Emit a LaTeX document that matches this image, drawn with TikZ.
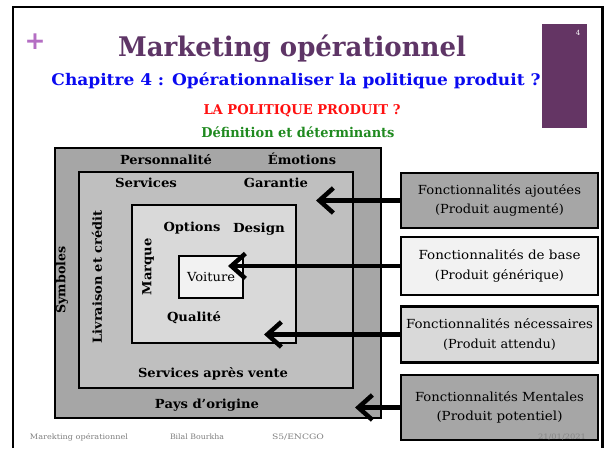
\documentclass[tikz,border=0pt]{standalone}
\usepackage{fontspec}
\setmainfont{DejaVu Serif}
\newfontfamily\plusfont{DejaVu Sans}
\usetikzlibrary{arrows.meta}
\newcommand\fitw[2]{\resizebox{#1}{\height}{#2}}
\definecolor{titlepurple}{HTML}{5E3566}
\definecolor{rectpurple}{HTML}{643564}
\definecolor{plusorchid}{HTML}{B46EC3}
\definecolor{chapblue}{HTML}{0A0AF0}
\definecolor{polred}{HTML}{FF1010}
\definecolor{defgreen}{HTML}{1F8A1F}
\definecolor{grayA}{HTML}{A6A6A6}
\definecolor{grayB}{HTML}{BFBFBF}
\definecolor{grayC}{HTML}{D9D9D9}
\definecolor{grayD}{HTML}{F2F2F2}
\definecolor{footgray}{HTML}{7F7F7F}
\begin{document}
\begin{tikzpicture}[x=1pt,y=-1pt,
  layerbox/.style={draw=black, line width=2.6pt, inner sep=0pt, outer sep=0pt},
  sidebox/.style={draw=black, line width=2.6pt, inner sep=0pt, outer sep=0pt,
    minimum width=197pt, align=center, font=\fontsize{12.5}{19.5}\selectfont},
  lbl/.style={font=\bfseries\fontsize{12.5}{14}\selectfont, inner sep=0pt},
  foot/.style={font=\fontsize{7.4}{8}\selectfont, text=footgray, inner sep=0pt},
  arr/.style={line width=4.5pt, -{Straight Barb[length=14pt,width=25pt]}}]
\useasboundingbox (0,0) rectangle (605,448);
\fill[white] (0,0) rectangle (605,448);
% slide frame
\coordinate (fbl) at (13,448);
\coordinate (ftl) at (13,7);
\coordinate (ftr) at (602.5,7);
\coordinate (fbr) at (602.5,448);
\draw[line width=2.4pt] (fbl) -- (ftl) -- (ftr) -- (fbr);
% purple tab
\node[fill=rectpurple, minimum width=45pt, minimum height=104pt, inner sep=0pt] (tab) at (564.5,76) {};
\node[text=white, font=\fontsize{7}{8}\selectfont, inner sep=0pt] (pnum) at (578,33) {4};
\node[text=plusorchid, font=\plusfont\bfseries\fontsize{25}{25}\selectfont, inner sep=0pt] (plus) at (35,42) {+};
% headings
\node[text=titlepurple, font=\bfseries\fontsize{27}{30}\selectfont, inner sep=0pt] (title) at (292,49) {\fitw{348pt}{Marketing opérationnel}};
\node[text=chapblue, font=\bfseries\fontsize{16}{18}\selectfont, inner sep=0pt] (chap) at (296,81) {\fitw{489pt}{Chapitre 4 : Opérationnaliser la politique produit ?}};
\node[text=polred, font=\bfseries\fontsize{13.5}{15}\selectfont, inner sep=0pt] (pol) at (302,111) {\fitw{197pt}{LA POLITIQUE PRODUIT ?}};
\node[text=defgreen, font=\bfseries\fontsize{13.5}{15}\selectfont, inner sep=0pt] (def) at (298,132) {\fitw{193pt}{Définition et déterminants}};
% nested boxes
\node[layerbox, fill=grayA, minimum width=326pt, minimum height=270pt] (outer) at (218,283) {};
\node[layerbox, fill=grayB, minimum width=274pt, minimum height=216pt] (middle) at (216,280) {};
\node[layerbox, fill=grayC, minimum width=164pt, minimum height=138pt] (inner) at (214,274) {};
\node[layerbox, fill=grayD, minimum width=64pt, minimum height=42pt, font=\fontsize{12.5}{13}\selectfont] (voiture) at (211,277) {\fitw{48pt}{Voiture}};
% labels
\node[lbl] (perso) at (166,160) {\fitw{92pt}{Personnalité}};
\node[lbl] (emo) at (302,159) {\fitw{68pt}{Émotions}};
\node[lbl] (serv) at (146,183) {\fitw{62pt}{Services}};
\node[lbl] (gar) at (276,183) {\fitw{64pt}{Garantie}};
\node[lbl] (opt) at (192,228) {\fitw{57pt}{Options}};
\node[lbl] (des) at (259,229) {\fitw{52pt}{Design}};
\node[lbl, rotate=90] (marq) at (148,267) {\fitw{57pt}{Marque}};
\node[lbl] (qual) at (194,318) {\fitw{54pt}{Qualité}};
\node[lbl, rotate=90] (livr) at (97,277) {\fitw{133pt}{Livraison et crédit}};
\node[lbl, rotate=90] (symb) at (62,280) {\fitw{67pt}{Symboles}};
\node[lbl] (sav) at (213,374) {\fitw{150pt}{Services après vente}};
\node[lbl] (pays) at (207,405) {\fitw{104pt}{Pays d’origine}};
% side boxes
\node[sidebox, fill=grayA, minimum height=55pt] (b1) at (499.5,200.5) {\fitw{163pt}{Fonctionnalités ajoutées}\\\fitw{129pt}{(Produit augmenté)}};
\node[sidebox, fill=grayD, minimum height=58pt] (b2) at (499.5,266) {\fitw{162pt}{Fonctionnalités de base}\\\fitw{129pt}{(Produit générique)}};
\node[sidebox, fill=grayC, minimum height=56pt] (b3) at (499.5,334.5) {\fitw{187pt}{Fonctionnalités nécessaires}\\\fitw{113pt}{(Produit attendu)}};
\node[sidebox, fill=grayA, minimum height=65pt] (b4) at (499.5,407.5) {\fitw{169pt}{Fonctionnalités Mentales}\\\fitw{126pt}{(Produit potentiel)}};
% arrow tips
\coordinate (t1) at (316,200.5);
\coordinate (t2) at (228,266);
\coordinate (t3) at (264,334.5);
\coordinate (t4) at (355,407.5);
\draw[arr] (b1.west) -- (t1);
\draw[arr] (b2.west) -- (t2);
\draw[arr] (b3.west) -- (t3);
\draw[arr] (b4.west) -- (t4);
% footer
\node[foot] (f1) at (79,437) {\fitw{98pt}{Marekting opérationnel}};
\node[foot] (f2) at (197,437) {\fitw{54pt}{Bilal Bourkha}};
\node[foot] (f3) at (298,437) {\fitw{52pt}{S5/ENCGO}};
\node[foot, text=grayA!80!black] (f4) at (562,437) {\fitw{48pt}{21/01/2021}};
\end{tikzpicture}
\end{document}
